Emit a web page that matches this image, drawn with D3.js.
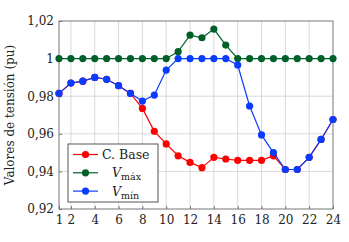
<!DOCTYPE html>
<html>
<head>
<meta charset="utf-8">
<script src="https://cdn.jsdelivr.net/npm/d3@7"></script>
<style>
  body { margin: 0; background: #fff; }
  text { font-family: 'DejaVu Serif', serif; fill: #222; }
</style>
</head>
<body>
<div id="chart"></div>
<script>
// hours 1..24
const hours = d3.range(1, 25);
const base = [0.9815, 0.987, 0.988, 0.990, 0.989, 0.9856, 0.9815, 0.9735, 0.9613, 0.9546,
  0.9483, 0.9448, 0.942, 0.9475, 0.9466, 0.9459, 0.9459, 0.9459, 0.9483, 0.941,
  0.941, 0.9475, 0.957, 0.9676];
const vmax = [1, 1, 1, 1, 1, 1, 1, 1, 1, 1, 1.0037, 1.0125, 1.0111, 1.0157, 1.0072,
  1, 1, 1, 1, 1, 1, 1, 1, 1];
const vmin = [0.9815, 0.987, 0.988, 0.990, 0.989, 0.9856, 0.9815, 0.9774, 0.9806, 0.9939,
  1, 1, 1, 1, 1, 0.9966, 0.9748, 0.9594, 0.950, 0.941, 0.941, 0.9475, 0.957, 0.9676];
const xTicks = [1, 2, 4, 6, 8, 10, 12, 14, 16, 18, 20, 22, 24];
const yTicks = [0.92, 0.94, 0.96, 0.98, 1, 1.02];

const series = [
  { name: 'C. Base', values: base, color: '#ff0000' },
  { name: 'Vmáx', sub: 'máx', values: vmax, color: '#00602a' },
  { name: 'Vmín', sub: 'mín', values: vmin, color: '#0a3cff' }
];

const width = 349, height = 242;
const margin = { top: 21, right: 16, bottom: 33, left: 59 };

const svg = d3.select('#chart').append('svg')
  .attr('width', width)
  .attr('height', height);

const x = d3.scaleLinear().domain([1, 24]).range([margin.left, width - margin.right]);
const y = d3.scaleLinear().domain([0.92, 1.02]).range([height - margin.bottom, margin.top]);

const fmt = d => d === 1 ? '1' : d3.format('.2f')(d).replace('.', ',');

// grid
svg.append('g')
  .selectAll('line')
  .data(xTicks.filter(d => d !== 1 && d !== 24))
  .enter().append('line')
  .attr('x1', d => x(d)).attr('x2', d => x(d))
  .attr('y1', y(0.92)).attr('y2', y(1.02))
  .attr('stroke', '#d0d0d0').attr('stroke-width', 0.8);
svg.append('g')
  .selectAll('line')
  .data(yTicks.slice(1, -1))
  .enter().append('line')
  .attr('x1', x(1)).attr('x2', x(24))
  .attr('y1', d => y(d)).attr('y2', d => y(d))
  .attr('stroke', '#d0d0d0').attr('stroke-width', 0.8);

// axes
const xAxis = svg.append('g')
  .attr('transform', `translate(0,${y(0.92)})`)
  .call(d3.axisBottom(x).tickValues(xTicks).tickSize(-3).tickPadding(6).tickFormat(d3.format('d')));
const yAxis = svg.append('g')
  .attr('transform', `translate(${x(1)},0)`)
  .call(d3.axisLeft(y).tickValues(yTicks).tickSize(-3).tickPadding(5).tickFormat(fmt));
[xAxis, yAxis].forEach(a => {
  a.select('.domain').remove();
  a.selectAll('line').attr('stroke', '#777');
  a.selectAll('text').style('font-size', '12px')
    .style('font-family', "'DejaVu Serif', serif").attr('fill', '#222');
});

// frame
svg.append('rect')
  .attr('x', x(1)).attr('y', y(1.02))
  .attr('width', x(24) - x(1)).attr('height', y(0.92) - y(1.02))
  .attr('fill', 'none').attr('stroke', '#777').attr('stroke-width', 1);

// y label
svg.append('text')
  .attr('transform', `translate(14,${(y(0.92) + y(1.02)) / 2}) rotate(-90)`)
  .attr('text-anchor', 'middle')
  .style('font-size', '12px')
  .text('Valores de tensión (pu)');

const line = d3.line().x((d, i) => x(hours[i])).y(d => y(d));

series.forEach(s => {
  const g = svg.append('g');
  g.append('path')
    .attr('d', line(s.values))
    .attr('fill', 'none')
    .attr('stroke', s.color)
    .attr('stroke-width', 1.2);
  g.selectAll('circle')
    .data(s.values)
    .enter().append('circle')
    .attr('cx', (d, i) => x(hours[i]))
    .attr('cy', d => y(d))
    .attr('r', 3.6)
    .attr('fill', s.color);
});

// legend
const leg = svg.append('g').attr('transform', 'translate(68,144)');
leg.append('rect')
  .attr('width', 90).attr('height', 58)
  .attr('fill', '#fff').attr('stroke', '#555').attr('stroke-width', 1);
series.forEach((s, i) => {
  const row = leg.append('g').attr('transform', `translate(0,${10.5 + i * 18.3})`);
  row.append('line').attr('x1', 5).attr('x2', 30)
    .attr('stroke', s.color).attr('stroke-width', 1.2);
  row.append('circle').attr('cx', 17.5).attr('r', 3.6).attr('fill', s.color);
  if (!s.sub) {
    row.append('text').attr('x', 34).attr('y', 4.5)
      .style('font-size', '12.5px').text(s.name);
  } else {
    const t = row.append('text').attr('x', 44).attr('y', 4.5).style('font-size', '12.5px');
    t.append('tspan').style('font-style', 'italic').text('V');
    t.append('tspan').attr('dy', 3).style('font-size', '9.5px').text(s.sub);
  }
});
</script>
</body>
</html>
